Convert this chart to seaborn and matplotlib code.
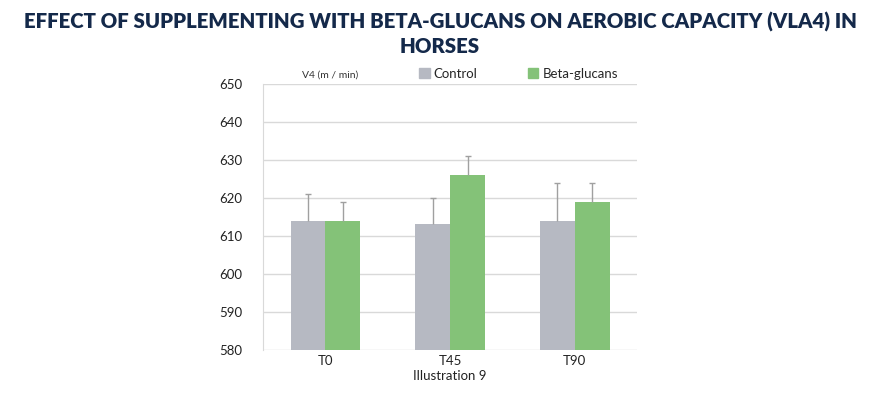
import pandas as pd
import matplotlib.pyplot as plt
import seaborn as sns

times = ["T0", "T45", "T90"]
control = [614, 613, 614]
control_err = [7, 7, 10]
beta = [614, 626, 619]
beta_err = [5, 5, 5]

df = pd.DataFrame({
    "time": times * 2,
    "v4": control + beta,
    "group": ["Control"] * 3 + ["Beta-glucans"] * 3,
})

sns.set_style("white")
plt.rcParams['font.family'] = ['Lato', 'DejaVu Sans']

fig = plt.figure(figsize=(8.8, 3.99), dpi=100)
ax = fig.add_axes([0.299, 0.123, 0.425, 0.667])

colors = {"Control": "#b6b9c2", "Beta-glucans": "#84c278"}
sns.barplot(data=df, x="time", y="v4", hue="group", palette=colors,
            width=0.56, saturation=1, linewidth=0, ax=ax, legend=False, zorder=2)

# upper error bars only
for cont, errs in zip(ax.containers, [control_err, beta_err]):
    for bar, e in zip(cont, errs):
        xc = bar.get_x() + bar.get_width() / 2
        h = bar.get_height()
        ax.vlines(xc, h, h + e, color="#a0a0a0", linewidth=1, zorder=3)
        ax.plot(xc, h + e, marker="_", markersize=4, color="#a0a0a0", zorder=3)

ax.set_ylim(580, 650)
ax.set_yticks(range(580, 651, 10))
ax.set_xlim(-0.5, 2.5)
ax.yaxis.grid(True, color="#d9d9d9", linewidth=1)
ax.set_axisbelow(True)
for s in ["top", "right", "bottom"]:
    ax.spines[s].set_visible(False)
ax.spines["left"].set_color("#d9d9d9")
ax.tick_params(axis="both", length=0, labelsize=9.5, colors="#222222")
ax.tick_params(axis="y", pad=15)
ax.set_ylabel("")
ax.set_xlabel("Illustration 9", fontsize=9.5, color="#222222", labelpad=2)

# legend header
fig.text(0.343, 0.812, "V4 (m / min)", fontsize=7.5, color="#333333", ha="left", va="center")
handles = [plt.Rectangle((0, 0), 1, 1, color=colors[g]) for g in ["Control", "Beta-glucans"]]
fig.legend(handles, ["Control", "Beta-glucans"], loc="center left",
           bbox_to_anchor=(0.463, 0.815), ncol=2, frameon=False, fontsize=9.5,
           handlelength=0.8, handleheight=0.8, handletextpad=0.3, columnspacing=3.8)

fig.suptitle("EFFECT OF SUPPLEMENTING WITH BETA-GLUCANS ON AEROBIC CAPACITY (VLA4) IN\nHORSES",
             fontsize=14.7, fontweight="heavy", color="#14294a", y=0.97,
             linespacing=1.3)

fig.savefig("out.png", dpi=100)
